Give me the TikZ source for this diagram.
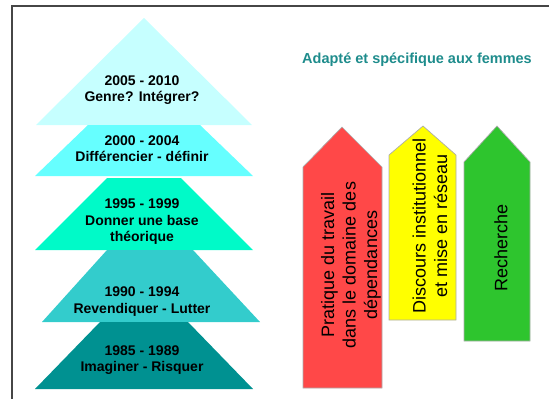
\documentclass[tikz,border=0pt]{standalone}
\usepackage{fontspec}
\setmainfont{Liberation Sans}
\usepackage{tikz}
\usetikzlibrary{positioning}
\usepackage{xcolor}
\definecolor{lvlone}{RGB}{198,255,255}
\definecolor{lvltwo}{RGB}{102,255,255}
\definecolor{lvlthree}{RGB}{0,250,200}
\definecolor{lvlfour}{RGB}{51,204,204}
\definecolor{lvlfive}{RGB}{0,145,145}
\definecolor{flred}{RGB}{255,72,72}
\definecolor{flyellow}{RGB}{255,255,0}
\definecolor{flgreen}{RGB}{46,197,46}
\definecolor{titleteal}{RGB}{30,140,140}
\tikzstyle{layertext} = [align=center, inner sep=0pt, font=\bfseries\fontsize{14}{16.5}\selectfont]
\tikzstyle{titletext} = [inner sep=0pt, text=titleteal, font=\bfseries\fontsize{14.5}{17}\selectfont]
\tikzstyle{flechetext} = [align=center, inner sep=0pt, rotate=90, font=\fontsize{18}{21.5}\selectfont]
\tikzstyle{fleche} = [draw=gray!65, line width=0.7pt]

\begin{document}
\begin{tikzpicture}[x=1pt, y=-1pt]
\useasboundingbox (0,0) rectangle (558,399);
% frame
\draw[line width=1.5pt, gray!55!black] (12,399) -- (12,6) -- (549,6);

% pyramid layers
\fill[lvlone] (144,18) -- (252,125) -- (36,125) -- cycle;
\fill[lvltwo] (88,125) -- (200,125) -- (253,176) -- (35,176) -- cycle;
\fill[lvlthree] (107,178) -- (181,178) -- (253,250) -- (35,250) -- cycle;
\fill[lvlfour] (107,250) -- (193,250) -- (260,322) -- (42,322) -- cycle;
\fill[lvlfive] (100,322) -- (188,322) -- (253,389) -- (35,389) -- cycle;

% layer labels
\node (p2005) [layertext] at (142,90) {2005 - 2010\\Genre? Intégrer?};
\node (p2000) [layertext] at (142,148.5) {2000 - 2004\\Différencier - définir};
\node (p1995) [layertext] at (142,222) {1995 - 1999\\Donner une base\\théorique};
\node (p1990) [layertext] at (142,301.5) {1990 - 1994\\Revendiquer - Lutter};
\node (p1985) [layertext] at (142,360) {1985 - 1989\\Imaginer - Risquer};

% title
\node (titre) [titletext] at (417,60) {Adapté et spécifique aux femmes};

% arrows
\filldraw[fleche, fill=flred] (303,388) -- (303,167) -- (342,127) -- (382,167) -- (382,388) -- cycle;
\filldraw[fleche, fill=flyellow] (389,320) -- (389,155) -- (423,126) -- (456,155) -- (456,320) -- cycle;
\filldraw[fleche, fill=flgreen] (464,341) -- (464,162) -- (497,126) -- (530,162) -- (530,341) -- cycle;

\node (pratique) [flechetext] at (351,265) {Pratique du travail\\dans le domaine des\\dépendances};
\node (discours) [flechetext] at (430,226) {Discours institutionnel\\et mise en réseau};
\node (recherche) [flechetext] at (501,248) {Recherche};
\end{tikzpicture}
\end{document}
